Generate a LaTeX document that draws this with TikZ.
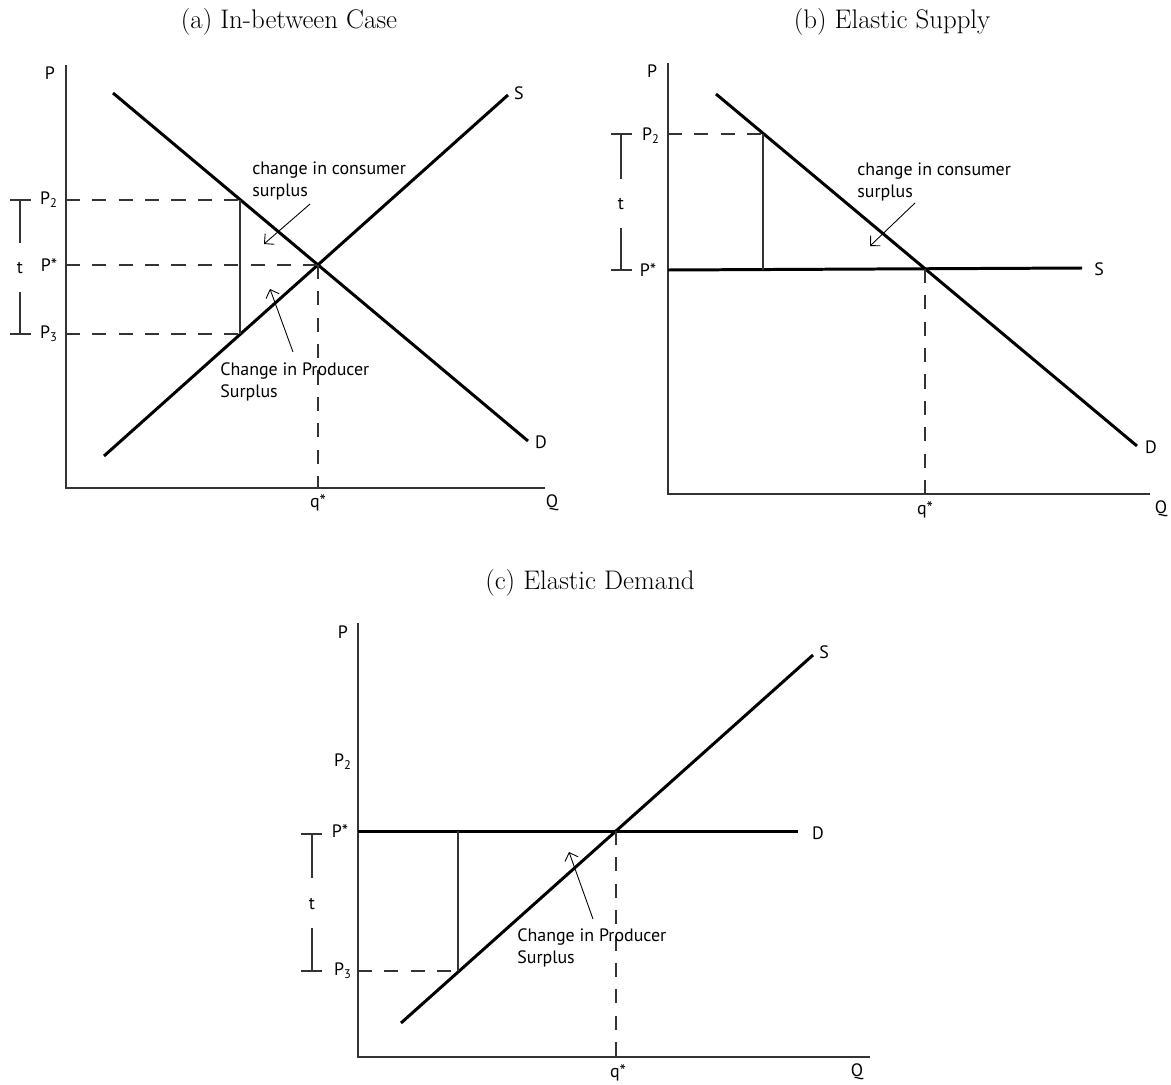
\documentclass[tikz,border=0pt]{standalone}
\usepackage{fontspec}
\setsansfont{PT Sans}
\usetikzlibrary{arrows.meta}

\tikzset{
    curve/.style={line width=1.7pt},
    axis/.style={line width=0.9pt, black!80},
    riser/.style={line width=0.7pt, black!80},
    guide/.style={line width=0.7pt, black!80, dash pattern=on 8pt off 7pt},
    lbl/.style={font=\sffamily\fontsize{10.2}{12.4}\selectfont, inner sep=0pt},
    note/.style={lbl, align=left, anchor=west},
    pointer/.style={line width=0.5pt, -{Straight Barb[length=4pt,width=8pt]}},
    title/.style={font=\fontsize{15.3}{17}\selectfont, inner sep=0pt},
}

\begin{document}
\begin{tikzpicture}[x=0.2mm, y=-0.2mm]
    \useasboundingbox (0,0) rectangle (1171,1084);

    % ---------------- (a) In-between Case ----------------
    \node[title] (titleA) at (289,22) {(a) In-between Case};
    % Axes
    \draw[axis] (66,65) -- (66,488) -- (545,488);
    \node[lbl] (axPa) at (50,73) {P};
    \node[lbl] (axQa) at (552,503) {Q};
    \node[lbl] (qstarA) at (318,503) {q*};
    % Supply and demand
    \draw[curve] (104,456) -- (508,95);
    \draw[curve] (113,93) -- (528,441);
    \node[lbl] (supA) at (519,93) {S};
    \node[lbl] (demA) at (541,442) {D};
    \coordinate (eqA) at (318,265);
    % Price levels
    \foreach \y/\name/\txt/\xend in {200/ptwoA/P\textsubscript{2}/240, 265/pstarA/P*/318, 334/pthreeA/P\textsubscript{3}/240} {
        \node[lbl] (\name) at (49,\y) {\txt};
        \draw[guide] (66,\y) -- (\xend,\y);
    }
    \draw[guide] (eqA) -- (318,488);
    \draw[riser] (240,200) -- (240,334);
    % Tax bracket
    \draw[riser] (10,200) -- (31,200) (20,200) -- (20,243);
    \draw[riser] (20,292) -- (20,334) (10,334) -- (31,334);
    \node[lbl] (taxA) at (20,268) {t};
    % Surplus notes
    \node[note] (consA) at (252,181) {change in consumer\\surplus};
    \coordinate (consTipA) at (264,244);
    \draw[pointer] (310,204) -- (consTipA);
    \node[note] (prodA) at (220,382) {Change in Producer\\Surplus};
    \coordinate (prodTipA) at (270,289);
    \draw[pointer] (293,352) -- (prodTipA);

    % ---------------- (b) Elastic Supply ----------------
    \node[title] (titleB) at (892,22) {(b) Elastic Supply};
    % Axes
    \draw[axis] (668,63) -- (668,494) -- (1150,494);
    \node[lbl] (axPb) at (652,71) {P};
    \node[lbl] (axQb) at (1161,509) {Q};
    \node[lbl] (qstarB) at (925,510) {q*};
    % Supply and demand
    \draw[curve] (668,270) -- (1082,268);
    \draw[curve] (716,94) -- (1137,446);
    \node[lbl] (supB) at (1099,269) {S};
    \node[lbl] (demB) at (1151,447) {D};
    \coordinate (eqB) at (925,269);
    % Price levels
    \node[lbl] (ptwoB) at (651,136) {P\textsubscript{2}};
    \node[lbl] (pstarB) at (648,270) {P*};
    \draw[guide] (668,134) -- (763,134);
    \draw[riser] (763,134) -- (763,270);
    \draw[guide] (eqB) -- (925,494);
    % Tax bracket
    \draw[riser] (611,134) -- (632,134) (621,134) -- (621,179);
    \draw[riser] (621,228) -- (621,270) (611,270) -- (632,270);
    \node[lbl] (taxB) at (621,204) {t};
    % Surplus note
    \node[note] (consB) at (857,182) {change in consumer\\surplus};
    \coordinate (consTipB) at (870,246);
    \draw[pointer] (915,203) -- (consTipB);

    % ---------------- (c) Elastic Demand ----------------
    \node[title] (titleC) at (590,583) {(c) Elastic Demand};
    % Axes
    \draw[axis] (358,623) -- (358,1057) -- (870,1057);
    \node[lbl] (axPc) at (343,632) {P};
    \node[lbl] (axQc) at (857,1072) {Q};
    \node[lbl] (qstarC) at (618,1073) {q*};
    % Supply and demand
    \draw[curve] (358,831) -- (798,831);
    \draw[curve] (401,1023) -- (813,655);
    \node[lbl] (demC) at (818,833) {D};
    \node[lbl] (supC) at (824,652) {S};
    \coordinate (eqC) at (616,831);
    % Price levels
    \node[lbl] (ptwoC) at (343,762) {P\textsubscript{2}};
    \node[lbl] (pstarC) at (340,831) {P*};
    \node[lbl] (pthreeC) at (343,971) {P\textsubscript{3}};
    \draw[guide] (358,971) -- (458,971);
    \draw[riser] (458,831) -- (458,971);
    \draw[guide] (eqC) -- (616,1057);
    % Tax bracket
    \draw[riser] (301,834) -- (322,834) (312,834) -- (312,878);
    \draw[riser] (312,928) -- (312,971) (301,971) -- (322,971);
    \node[lbl] (taxC) at (312,904) {t};
    % Surplus note
    \node[note] (prodC) at (517,948) {Change in Producer\\Surplus};
    \coordinate (prodTipC) at (569,852);
    \draw[pointer] (593,919) -- (prodTipC);
\end{tikzpicture}
\end{document}
